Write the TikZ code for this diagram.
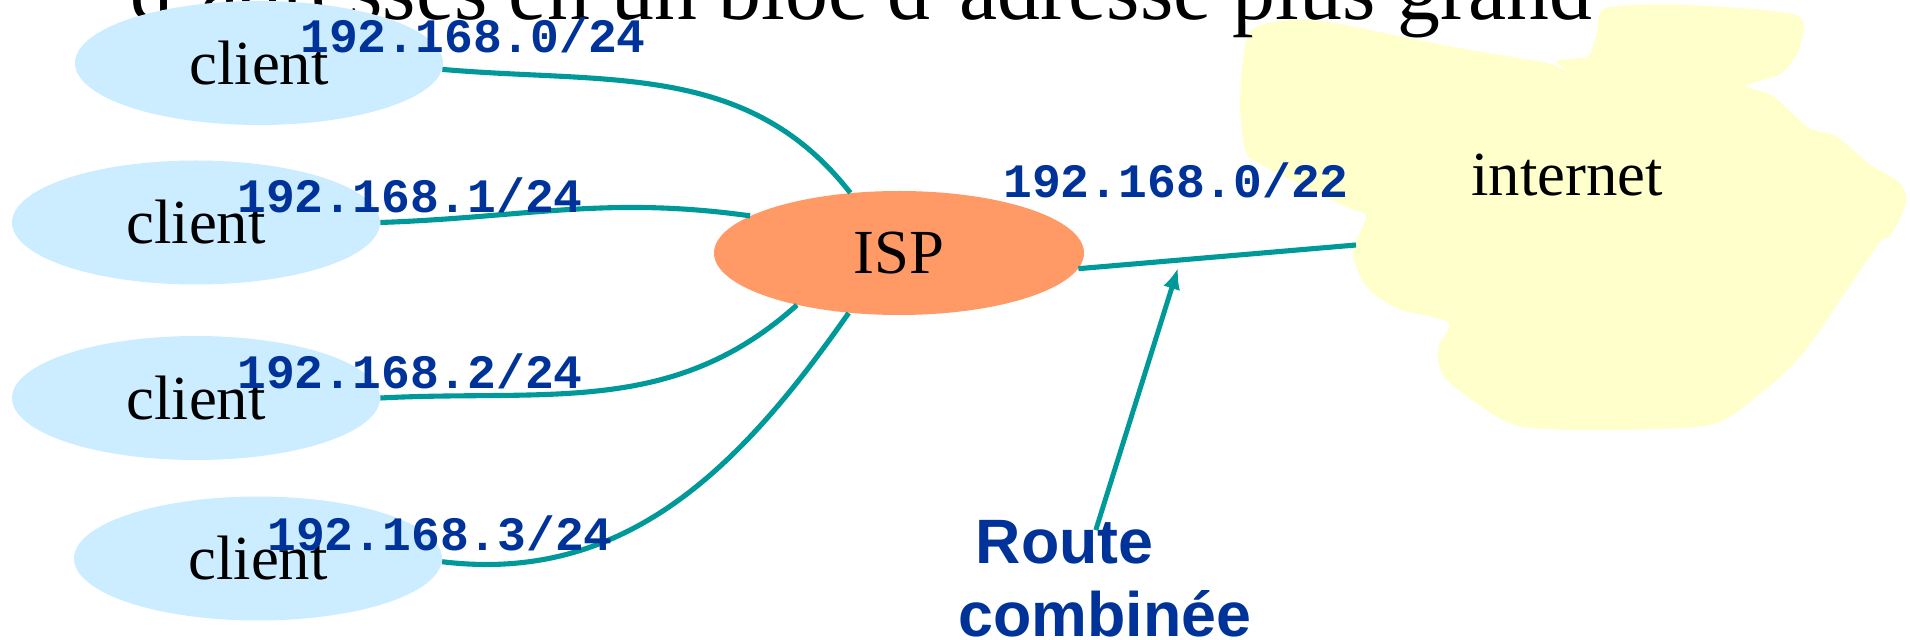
\documentclass[tikz,border=0pt]{standalone}
\usepackage{fontspec}
\setmainfont{Liberation Serif}
\newfontfamily\prefixfont{Liberation Mono}
\newfontfamily\notefont{Liberation Sans}
\usetikzlibrary{arrows.meta,positioning,shapes.geometric,calc}
\tikzset{>={Latex[length=12pt,width=10pt]}}
\definecolor{clientblue}{HTML}{CCECFF}
\definecolor{isporange}{HTML}{FF9966}
\definecolor{netyellow}{HTML}{FFFFCC}
\definecolor{linkteal}{HTML}{009999}
\definecolor{prefixblue}{HTML}{003399}
\tikzset{
  client/.style={ellipse,fill=clientblue,minimum width=7.36cm,minimum height=2.48cm,inner sep=0pt,font=\fontsize{35.7}{41}\selectfont},
  ispnode/.style={ellipse,fill=isporange,minimum width=7.4cm,minimum height=2.48cm,inner sep=0pt,font=\fontsize{35.7}{41}\selectfont},
  netprefix/.style={anchor=base west,inner sep=0pt,text=prefixblue,font=\prefixfont\bfseries\fontsize{27.3}{32}\selectfont},
}

\begin{document}
\begin{tikzpicture}
    \useasboundingbox (0,0) rectangle (38.2,-12.8);
    \clip (0,0) rectangle (38.2,-12.8);
    
    % internet cloud
    \fill[netyellow] plot[smooth cycle,tension=0.45] coordinates {
      (24.98,-0.66) (25.8,-0.4) (26.7,-0.46) (28.06,-0.74) (29.4,-1.0)
      (30.94,-1.26) (31.4,-1.46) (31.12,-1.22) (31.76,-1.12) (31.94,-0.66)
      (32.12,-0.16) (33.74,-0.1) (35.92,-0.3) (36.0,-0.92) (35.64,-1.46)
      (34.92,-1.72) (35.46,-1.92) (36.18,-2.56) (36.72,-2.72) (37.36,-3.26)
      (38.0,-3.66) (38.12,-4.06) (37.8,-4.72) (37.54,-4.92) (36.08,-7.04)
      (35.1,-7.96) (34.2,-8.5) (32.12,-8.6) (30.3,-8.5) (29.04,-7.7)
      (28.78,-7.3) (28.78,-6.9) (28.96,-6.44) (27.96,-6.18) (27.32,-5.72)
      (27.06,-5.04) (27.32,-4.32) (26.88,-4.12) (25.16,-3.26) (24.9,-2.98)
      (24.8,-2.0)};
    
    \node [anchor=base west,inner sep=0pt,font=\fontsize{48.8}{56}\selectfont] (title) at (2.6,-0.4) {d'adresses en un bloc d'adresse plus grand};
    
    \node [client] (c1) at (5.18,-1.26) {client};
    \node [client] (c2) at (3.92,-4.45) {client};
    \node [client] (c3) at (3.92,-7.96) {client};
    \node [client] (c4) at (5.16,-11.17) {client};
    \node [ispnode] (isp) at (17.98,-5.06) {ISP};
    \node [anchor=base,inner sep=0pt,font=\fontsize{35.7}{41}\selectfont] (inet) at (31.34,-3.92) {internet};
    \coordinate (inetport) at (27.12,-4.9);
    \coordinate (agg) at (23.56,-5.36);
    
    \begin{scope}[line width=2.9pt,color=linkteal]
    \draw (c1.-2) to [out=-5,in=128] (isp.129);
    \draw (c2.east) to [out=2,in=172] (isp.166);
    \draw (c3.east) to [out=3,in=222] (isp.-153);
    \draw (c4.-1) to [out=-7,in=235] (isp.-130);
    \draw (isp.-5) -- (inetport);
    \end{scope}
    
    \node [netprefix] (p0) at (6.0,-1.06) {192.168.0/24};
    \node [netprefix] (p1) at (4.74,-4.26) {192.168.1/24};
    \node [netprefix] (p2) at (4.74,-7.78) {192.168.2/24};
    \node [netprefix] (p3) at (5.34,-11.0) {192.168.3/24};
    \node [netprefix] (p22) at (20.06,-3.96) {192.168.0/22};
    
    \node [anchor=north west,align=left,inner sep=0pt,text=prefixblue,font=\notefont\bfseries\fontsize{35.7}{41.4}\selectfont] (route) at (19.16,-10.4) {~Route\\combinée};
    \draw[->,line width=2.8pt,color=linkteal] ([xshift=-0.18cm,yshift=-0.2cm]route.north) -- (agg);
    
\end{tikzpicture}
\end{document}
